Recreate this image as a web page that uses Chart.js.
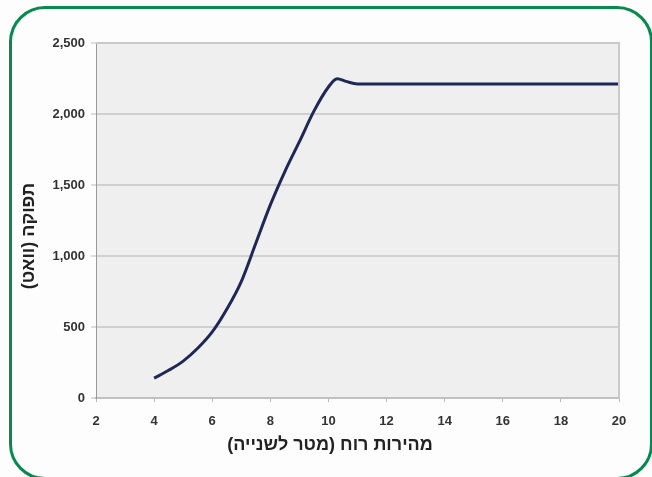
<!DOCTYPE html>
<html>
<head>
<meta charset="utf-8">
<script src="https://cdn.jsdelivr.net/npm/chart.js@4/dist/chart.umd.min.js"></script>
<style>
  html, body { margin: 0; padding: 0; background: #fdfdfd; overflow: hidden; }
  #wrap { position: relative; width: 652px; height: 477px; }
  #frame { position: absolute; left: 9px; top: 6px; width: 644px; height: 474px;
           border: 3px solid #068a50; border-radius: 36px; box-sizing: border-box; }
  canvas { position: absolute; left: 0; top: 0; direction: rtl; }
</style>
</head>
<body>
<div id="wrap">
  <div id="frame"></div>
  <canvas id="c" width="652" height="477"></canvas>
</div>
<script>
// Wind speed (m/s) and power output (W)
const windSpeed = [4, 4.5, 5, 5.5, 6, 6.5, 7, 7.5, 8, 8.5, 9, 9.5, 10, 10.3, 10.6, 11, 12, 13, 14, 15, 16, 17, 18, 19, 20];
const powerOut  = [140, 195, 260, 350, 465, 625, 820, 1090, 1360, 1595, 1805, 2020, 2190, 2248, 2230, 2212, 2212, 2212, 2212, 2212, 2212, 2212, 2212, 2212, 2212];
const xTicks = [2, 4, 6, 8, 10, 12, 14, 16, 18, 20];
const yTicks = [0, 500, 1000, 1500, 2000, 2500];
const xTitle = 'מהירות רוח (מטר לשנייה)';
const yTitle = 'תפוקה (וואט)';

const points = windSpeed.map((x, i) => ({ x: x, y: powerOut[i] }));

const titleFontCss = 'bold 18px "Liberation Sans", "DejaVu Sans", Arial, sans-serif';

const plotDecor = {
  id: 'plotDecor',
  beforeDraw(chart) {
    const { ctx, chartArea: a } = chart;
    ctx.save();
    ctx.fillStyle = '#efefef';
    ctx.fillRect(a.left, a.top, a.right - a.left, a.bottom - a.top);
    ctx.restore();
  },
  afterDatasetsDraw(chart) {
    const { ctx, chartArea: a } = chart;
    ctx.save();
    ctx.strokeStyle = '#c9c9c9';
    ctx.lineWidth = 2;
    ctx.beginPath();
    ctx.moveTo(a.left, a.top);
    ctx.lineTo(a.right, a.top);
    ctx.lineTo(a.right, a.bottom);
    ctx.stroke();
    ctx.restore();
  },
  afterDraw(chart) {
    const { ctx } = chart;
    ctx.save();
    ctx.font = titleFontCss;
    ctx.fillStyle = '#222';
    ctx.direction = 'rtl';
    ctx.textAlign = 'center';
    ctx.textBaseline = 'middle';
    // x-axis title, centred on the chart frame
    ctx.fillText(xTitle, 330, 445);
    // y-axis title, rotated
    ctx.translate(29, 236);
    ctx.rotate(-Math.PI / 2);
    ctx.fillText(yTitle, 0, 0);
    ctx.restore();
  }
};

const tickFont = { family: '"Liberation Sans", Arial, sans-serif', size: 13, weight: 'bold' };

new Chart(document.getElementById('c'), {
  type: 'line',
  data: {
    datasets: [{
      data: points,
      borderColor: '#1e2756',
      borderWidth: 3,
      pointRadius: 0,
      fill: false,
      cubicInterpolationMode: 'monotone'
    }]
  },
  options: {
    responsive: false,
    animation: false,
    devicePixelRatio: 1,
    layout: { padding: { left: 0, top: 43, right: 33, bottom: 0 } },
    plugins: { legend: { display: false }, tooltip: { enabled: false } },
    scales: {
      x: {
        type: 'linear',
        min: 2, max: 20,
        afterBuildTicks: (s) => { s.ticks = xTicks.map(v => ({ value: v })); },
        afterFit: (s) => { s.height = 79; },
        ticks: { font: tickFont, color: '#333', padding: 12, maxRotation: 0, autoSkip: false },
        grid: { display: true, drawOnChartArea: false, drawTicks: true, tickLength: 4, color: '#bbbbbb', lineWidth: 1 },
        border: { display: true, color: '#c0c0c0', width: 2 },
        title: { display: false }
      },
      y: {
        type: 'linear',
        min: 0, max: 2500,
        afterBuildTicks: (s) => { s.ticks = yTicks.map(v => ({ value: v })); },
        afterFit: (s) => { s.width = 96; },
        ticks: { font: tickFont, color: '#333', padding: 6,
                 callback: (v) => v.toLocaleString('en-US') },
        grid: { color: '#d0d0d0', lineWidth: 2, tickLength: 5, tickColor: '#bbbbbb', tickWidth: 1 },
        border: { display: true, color: '#9a9a9a', width: 1 },
        title: { display: false }
      }
    }
  },
  plugins: [plotDecor]
});
</script>
</body>
</html>
